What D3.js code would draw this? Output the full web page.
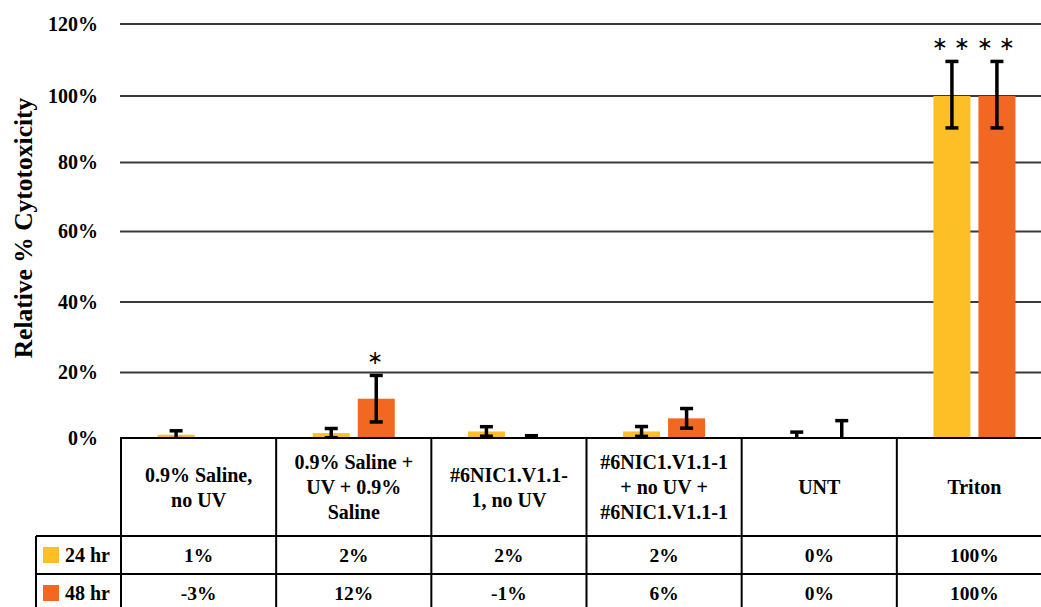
<!DOCTYPE html>
<html>
<head>
<meta charset="utf-8">
<script src="https://cdn.jsdelivr.net/npm/d3@7"></script>
<style>
  html, body { margin: 0; padding: 0; background: #fff; }
  svg { display: block; }
</style>
</head>
<body>
<svg id="chart" width="1041" height="607"></svg>
<script>
// ---- data ----
const categories = ["0.9% Saline, no UV", "0.9% Saline + UV + 0.9% Saline", "#6NIC1.V1.1-1, no UV",
                    "#6NIC1.V1.1-1 + no UV + #6NIC1.V1.1-1", "UNT", "Triton"];
const categoryLines = [["0.9% Saline,", "no UV"], ["0.9% Saline +", "UV + 0.9%", "Saline"],
                       ["#6NIC1.V1.1-", "1, no UV"], ["#6NIC1.V1.1-1", "+ no UV +", "#6NIC1.V1.1-1"],
                       ["UNT"], ["Triton"]];
const seriesNames = ["24 hr", "48 hr"];
const values24 = [1, 1.5, 2, 2, 0, 100];
const values48 = [-3, 12, -1, 6, 0, 100];
const errors24 = [1.2, 1.4, 1.45, 1.5, 1.8, 9.6];
const errors48 = [2.5, 7.1, 1.7, 3, 5.3, 9.6];
const significance48 = ["", "*", "", "", "", "* *"];
const significance24 = ["", "", "", "", "", "* *"];
const yTicks = [0, 20, 40, 60, 80, 100, 120];
const colors = ["#FCBF26", "#F26722"];

const SERIF = "'Liberation Serif', 'DejaVu Serif', serif";
const SANS = "'DejaVu Sans', sans-serif";

// ---- layout ----
const svg = d3.select("#chart");
const W = 1041, H = 607;
const plotTop = 24, plotBottom = 438, plotLeft = 120, plotRight = 1052;
const headerBottom = 536, rowH = 38, legendLeft = 36;

const x = d3.scaleBand().domain(categories).range([plotLeft + 1, plotRight]).paddingInner(0).paddingOuter(0);
// gridlines in the reference are slightly unevenly spaced; follow them piecewise
const y = d3.scaleLinear().domain(yTicks).range([438, 372.5, 302, 231.5, 162.5, 96, 24]);

const barW = 37, barGap = 8;
const series = [
  { name: seriesNames[0], values: values24, errors: errors24, sig: significance24, color: colors[0], off: -(barGap / 2 + barW / 2) },
  { name: seriesNames[1], values: values48, errors: errors48, sig: significance48, color: colors[1], off: (barGap / 2 + barW / 2) }
];

const bold = sel => sel.style("font-family", SERIF).style("font-weight", "bold").style("fill", "#000");

// gridlines
svg.append("g").selectAll("line").data(yTicks.filter(d => d > 0)).join("line")
  .attr("x1", plotLeft).attr("x2", W)
  .attr("y1", d => y(d)).attr("y2", d => y(d))
  .attr("stroke", "#3a3a3a").attr("stroke-width", 2);

// y tick labels via axis
const yAxis = svg.append("g").attr("transform", `translate(${plotLeft},0)`)
  .call(d3.axisLeft(y).tickValues(yTicks).tickFormat(d => d + "%").tickSize(0).tickPadding(22));
yAxis.select(".domain").remove();
yAxis.selectAll("text").style("font-size", "20px").call(bold);

// y title
svg.append("text").attr("transform", `translate(32,${228}) rotate(-90)`)
  .attr("text-anchor", "middle").style("font-size", "25.5px").call(bold).text("Relative % Cytotoxicity");

// clip
svg.append("clipPath").attr("id", "plotclip").append("rect")
  .attr("x", plotLeft).attr("y", 0).attr("width", W - plotLeft).attr("height", plotBottom);

const plot = svg.append("g").attr("clip-path", "url(#plotclip)");

series.forEach(s => {
  const cx = (d, i) => x(categories[i]) + x.bandwidth() / 2 + s.off;
  plot.append("g").selectAll("rect").data(s.values).join("rect")
    .attr("x", (d, i) => cx(d, i) - barW / 2)
    .attr("width", barW)
    .attr("y", d => Math.min(y(d), y(0)))
    .attr("height", d => Math.abs(y(0) - y(d)))
    .attr("fill", s.color);
});

series.forEach(s => {
  const cx = i => x(categories[i]) + x.bandwidth() / 2 + s.off;
  const g = plot.append("g");
  s.values.forEach((v, i) => {
    const hi = y(v + s.errors[i]), lo = y(v - s.errors[i]);
    g.append("line").attr("x1", cx(i)).attr("x2", cx(i)).attr("y1", hi).attr("y2", lo)
      .attr("stroke", "#000").attr("stroke-width", 3.5);
    [hi, lo].forEach(yy => g.append("line").attr("x1", cx(i) - 6.5).attr("x2", cx(i) + 6.5)
      .attr("y1", yy).attr("y2", yy).attr("stroke", "#000").attr("stroke-width", 3.5));
    if (s.sig[i]) {
      svg.append("text").attr("x", cx(i) - 1).attr("y", hi - 11).attr("text-anchor", "middle")
        .style("font-family", SANS).style("font-weight", "normal").style("font-size", "19px")
        .text(s.sig[i].replace(/\*/g, "\u2217"));
    }
  });
});

// ---- data table ----
const tbl = svg.append("g");
const lineStyle = sel => sel.attr("stroke", "#000").attr("stroke-width", 2);
tbl.append("line").attr("x1", plotLeft).attr("x2", W).attr("y1", plotBottom).attr("y2", plotBottom).call(lineStyle);
[headerBottom, headerBottom + rowH, headerBottom + 2 * rowH].forEach(yy =>
  tbl.append("line").attr("x1", legendLeft).attr("x2", W).attr("y1", yy).attr("y2", yy).call(lineStyle));
tbl.append("line").attr("x1", legendLeft).attr("x2", legendLeft).attr("y1", headerBottom).attr("y2", H + 5).call(lineStyle);
categories.forEach(c => tbl.append("line").attr("x1", x(c)).attr("x2", x(c))
  .attr("y1", plotBottom).attr("y2", H + 5).call(lineStyle));

// header labels
categoryLines.forEach((lines, i) => {
  const cx = x(categories[i]) + x.bandwidth() / 2;
  const lh = 25;
  const y0 = (plotBottom + headerBottom) / 2 - (lines.length - 1) * lh / 2 + 7;
  const t = tbl.append("text").attr("text-anchor", "middle").style("font-size", "20px").call(bold);
  lines.forEach((l, j) => t.append("tspan").attr("x", cx).attr("y", y0 + j * lh).text(l));
});

// rows
series.forEach((s, r) => {
  const rowTop = headerBottom + r * rowH;
  const cy = rowTop + rowH / 2;
  tbl.append("rect").attr("x", 43).attr("y", cy - 8).attr("width", 16).attr("height", 16).attr("fill", s.color);
  tbl.append("text").attr("x", 65).attr("y", cy + 7).style("font-size", "20px").call(bold).text(s.name);
  s.values.forEach((v, i) => {
    tbl.append("text").attr("x", x(categories[i]) + x.bandwidth() / 2).attr("y", cy + 7)
      .attr("text-anchor", "middle").style("font-size", "19.5px").call(bold).text(Math.round(v) + "%");
  });
});
</script>
</body>
</html>
